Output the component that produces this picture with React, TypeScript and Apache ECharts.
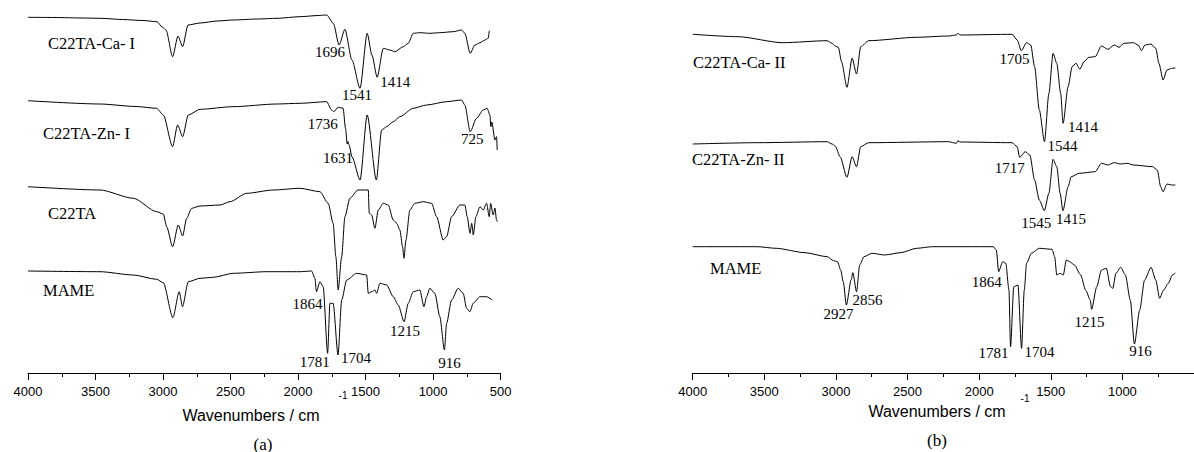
import React, { useEffect, useRef } from "react";
import * as echarts from "echarts";

// FTIR spectra, stacked with vertical offsets (arbitrary transmittance units).
// Each spectrum: [wavenumber (cm-1), offset transmittance]

// Panel (a)
const spectrumCaI: [number, number][] = [
  [4000, 355.7], [3800, 355.5], [3600, 355], [3467, 354.7], [3300, 353.5], [3150, 352.5], [3045, 351.3],
  [3008, 346.3], [2978, 343], [2929, 316.3], [2889, 337], [2855, 326.3], [2815, 348], [2726, 350],
  [2600, 352], [2482, 353], [2300, 354], [2156, 354.7], [1986, 356.3], [1850, 357.5], [1788, 358],
  [1739, 349.7], [1696, 328], [1653, 343.7], [1601, 313], [1541, 284.7], [1488, 339.7], [1453, 318],
  [1414, 295.7], [1369, 324.7], [1320, 323], [1283, 321.3], [1221, 326.3], [1184, 329.7], [1147, 339.7],
  [1098, 340.3], [1024, 339.7], [950, 340.3], [851, 341.3], [789, 343], [765, 339.7], [725, 319.7],
  [690, 328], [653, 330.3], [616, 333], [592, 334.7], [584, 342.3],
];

const spectrumZnI: [number, number][] = [
  [4000, 272.3], [3467, 269], [3200, 266.5], [3047, 264.7], [2998, 258], [2929, 226.3], [2892, 248],
  [2855, 236.3], [2813, 258], [2726, 263.7], [2482, 266.3], [2159, 269], [1986, 269.7], [1788, 271.3],
  [1751, 263], [1736, 261.3], [1702, 265.7], [1666, 264.7], [1649, 245], [1636, 229], [1631, 231.5],
  [1622, 228], [1600, 216], [1541, 193], [1488, 258], [1420, 193], [1381, 243], [1344, 246.3],
  [1295, 251.3], [1246, 256.3], [1147, 264.7], [1048, 268], [900, 271.3], [789, 273], [765, 268],
  [725, 241.3], [678, 254.7], [629, 263], [600, 264.7], [579, 258], [572, 246.3], [565, 251],
  [542, 233], [530, 236.3], [525, 223],
];

const spectrumC22TA: [number, number][] = [
  [4000, 186.3], [3467, 183], [3220, 174.7], [3047, 161.3], [2998, 159], [2973, 146.3], [2929, 126.3],
  [2887, 148], [2855, 137], [2825, 154.7], [2788, 164.7], [2726, 167], [2578, 168], [2504, 171.3],
  [2381, 179.7], [2184, 183], [1986, 184.7], [1838, 181.3], [1777, 169.7], [1740, 149.7], [1720, 116.3],
  [1703, 83], [1677, 116.3], [1653, 156.3], [1616, 174.7], [1557, 183], [1480, 183], [1473, 159.7],
  [1455, 158], [1431, 144.7], [1406, 163], [1369, 169.7], [1332, 168], [1295, 153], [1270, 149.7],
  [1246, 143], [1226, 126.3], [1216, 114.7], [1201, 133], [1172, 163], [1135, 169.7], [1073, 171.3],
  [1011, 169.7], [974, 156.3], [925, 133], [900, 136.3], [863, 156.3], [801, 168], [765, 168],
  [747, 156.3], [727, 139.7], [714, 149.7], [702, 138], [683, 156.3], [653, 166.3], [629, 163],
  [604, 169.7], [584, 156.3], [574, 169.7], [555, 158], [542, 165], [530, 153], [525, 151.3],
];

const spectrumMameA: [number, number][] = [
  [4000, 102], [3467, 101.3], [3220, 98], [3047, 93.7], [2998, 90.3], [2927, 55.3], [2880, 81.3],
  [2856, 66.3], [2813, 91.3], [2726, 94.7], [2628, 95.7], [2480, 99.7], [2233, 101.3], [1986, 101.3],
  [1900, 102], [1875, 94.7], [1864, 81.3], [1838, 91.3], [1814, 86.3], [1781, 19.7], [1764, 69.7],
  [1740, 69.7], [1704, 18], [1677, 73], [1640, 93], [1566, 99.7], [1492, 98], [1480, 79.7],
  [1455, 81.3], [1431, 83], [1418, 79.7], [1394, 89.7], [1344, 88], [1295, 76.3], [1258, 68],
  [1215, 51.3], [1184, 69.7], [1147, 81.3], [1098, 83], [1068, 66.3], [1048, 76.3], [1024, 84.7],
  [987, 79.7], [950, 56.3], [916, 23], [900, 49.7], [863, 73], [814, 84.7], [777, 79.7], [752, 64.7],
  [727, 61.3], [703, 69.7], [653, 76.3], [604, 76.3], [562, 73],
];

// Panel (b)
const spectrumCaII: [number, number][] = [
  [4000, 338.7], [3684, 336.3], [3372, 330.3], [3061, 332.3], [3027, 329.7], [3005, 327], [2983, 325.7],
  [2961, 311.3], [2923, 285.7], [2887, 314.7], [2856, 299], [2827, 326.3], [2771, 332.3], [2437, 335.7],
  [2214, 337], [2159, 338], [2148, 339.7], [2134, 338], [1769, 338.7], [1735, 333], [1705, 322.3],
  [1669, 330.3], [1640, 328], [1613, 306.3], [1580, 263], [1544, 231.3], [1513, 279.7], [1484, 319.7],
  [1458, 309.7], [1431, 279.7], [1414, 249.7], [1379, 286.3], [1351, 306.3], [1324, 309.7],
  [1297, 303.7], [1268, 311.3], [1234, 315.7], [1190, 316.3], [1146, 327], [1101, 323.7], [1057, 328],
  [1023, 325.7], [990, 329.7], [923, 330.3], [890, 328], [867, 322.3], [843, 328], [800, 329],
  [767, 324.7], [745, 309.7], [716, 293], [689, 303], [656, 304.7], [630, 305],
];

const spectrumZnII: [number, number][] = [
  [4000, 229], [3550, 230.3], [3061, 231.3], [3027, 229], [3005, 227], [2971, 216.3], [2923, 195.7],
  [2887, 216.3], [2856, 206.3], [2827, 226.3], [2771, 230.3], [2214, 231.3], [2159, 229.7], [2148, 232.3],
  [2134, 231], [1769, 230.3], [1735, 226.3], [1717, 215.7], [1679, 221.3], [1646, 218], [1613, 193],
  [1580, 173], [1545, 162.3], [1513, 179.7], [1484, 213.7], [1458, 206.3], [1435, 179.7], [1415, 162.3],
  [1379, 186.3], [1357, 196.3], [1301, 199.7], [1190, 201.3], [1146, 209.7], [1101, 208], [1057, 210.3],
  [1012, 209], [967, 209.7], [923, 208], [790, 206.3], [756, 203], [733, 186.3], [716, 181.3],
  [689, 189], [656, 188], [630, 188],
];

const spectrumMameB: [number, number][] = [
  [4000, 126.3], [3550, 126.3], [3417, 124.7], [3216, 120.3], [3061, 116.3], [3016, 112.3], [2989, 111.3],
  [2967, 103], [2949, 91.3], [2927, 68], [2894, 93], [2882, 100.3], [2856, 81.3], [2834, 108],
  [2804, 116.3], [2749, 119.7], [2660, 118], [2548, 120.3], [2437, 124.7], [2326, 126.3], [1902, 126.3],
  [1880, 123], [1864, 101.3], [1836, 111.3], [1814, 109.7], [1792, 83], [1781, 26.3], [1758, 86.3],
  [1729, 88], [1704, 24.7], [1685, 83], [1669, 109.7], [1635, 119.7], [1580, 124.7], [1491, 123.7],
  [1473, 116.3], [1458, 98], [1435, 99.7], [1413, 98], [1391, 113], [1368, 111.3], [1335, 108],
  [1291, 98], [1257, 83], [1224, 73], [1215, 63.7], [1179, 86.3], [1146, 103], [1112, 104.7],
  [1083, 86.3], [1067, 84.7], [1045, 99.7], [1012, 105.7], [979, 98], [945, 73], [916, 29], [879, 63],
  [845, 93], [800, 105.7], [767, 93], [740, 74.7], [712, 83], [679, 89.7], [651, 98], [630, 100],
];

// Annotated band positions (cm-1)
const peaksCaI = [1696, 1541, 1414];
const peaksZnI = [1736, 1631, 725];
const peaksMameA = [1864, 1781, 1704, 1215, 916];
const peaksCaII = [1705, 1544, 1414];
const peaksZnII = [1717, 1545, 1415];
const peaksMameB = [2927, 2856, 1864, 1781, 1704, 1215, 916];

// Label placement relative to each band minimum (px)
const offsetsCaI = [[-9, 7], [-3, 7], [18, 5]];
const offsetsZnI = [[-11, 12], [-10, 16], [2, 7]];
const offsetsMameA = [[-9, 12], [-13, 9], [18, 3], [1, 9], [5, 13]];
const offsetsCaII = [[-7, 8], [18, 4], [20, 4]];
const offsetsZnII = [[-10, 11], [-8, 12], [8, 8]];
const offsetsMameB = [[-8, 9], [11, 8], [-12, 10], [-17, 6], [18, 4], [-2, 13], [6, 7]];

const SANS = "'Liberation Sans', Arial, sans-serif";
const SERIF = "'Liberation Serif', 'Times New Roman', serif";

function valueAt(spec: [number, number][], wn: number): number {
  const p = spec.find((d) => d[0] === wn);
  return p ? p[1] : 0;
}

function peakItems(spec: [number, number][], peaks: number[], offsets: number[][]) {
  return peaks.map((wn, i) => ({
    value: [wn, valueAt(spec, wn)],
    label: { offset: offsets[i] },
  }));
}

function lineSeries(data: [number, number][], idx: number) {
  return {
    type: "line",
    xAxisIndex: idx,
    yAxisIndex: idx,
    data,
    showSymbol: false,
    symbol: "none",
    smooth: 0.25,
    smoothMonotone: "x",
    silent: true,
    lineStyle: { color: "#000", width: 1 },
  };
}

function labelSeries(items: any[], idx: number) {
  return {
    type: "scatter",
    xAxisIndex: idx,
    yAxisIndex: idx,
    data: items,
    symbolSize: 1,
    silent: true,
    itemStyle: { color: "rgba(0,0,0,0)", opacity: 1 },
    label: {
      show: true,
      position: "inside",
      formatter: (p: any) => String(p.value[0]),
      color: "#000",
      opacity: 1,
      textBorderWidth: 0,
      textBorderColor: "transparent",
      fontSize: 15,
      fontFamily: SERIF,
      align: "center",
      verticalAlign: "middle",
    },
  };
}

function xAxis(idx: number, hideMinLabel: boolean) {
  return {
    type: "value",
    gridIndex: idx,
    min: 500,
    max: 4000,
    interval: 500,
    inverse: true,
    axisLine: { show: true, onZero: false, lineStyle: { color: "#000", width: 1 } },
    axisTick: { show: true, inside: false, length: 7, lineStyle: { color: "#000", width: 1 } },
    minorTick: { show: true, splitNumber: 2, length: 4, lineStyle: { color: "#000", width: 1 } },
    splitLine: { show: false },
    minorSplitLine: { show: false },
    axisLabel: {
      color: "#000",
      fontSize: 13,
      fontFamily: SANS,
      margin: 12,
      showMinLabel: !hideMinLabel,
      formatter: (v: number) => String(v),
    },
  };
}

function text(x: number, y: number, t: string, size: number, family: string, align = "left") {
  return {
    type: "text",
    x,
    y,
    silent: true,
    style: {
      text: t,
      fontSize: size,
      fontFamily: family,
      fill: "#000",
      textAlign: align,
      align,
      textVerticalAlign: "middle",
      verticalAlign: "middle",
    },
  };
}

export default function App() {
  const ref = useRef<HTMLDivElement>(null);

  useEffect(() => {
    if (!ref.current) return;
    const chart = echarts.init(ref.current, undefined, { renderer: "svg" });
    chart.setOption({
      animation: false,
      backgroundColor: "#fff",
      grid: [
        { left: 28, top: 0, width: 472.6, height: 373 },
        { left: 692.7, top: 0, width: 524, height: 373 },
      ],
      xAxis: [xAxis(0, false), xAxis(1, true)],
      yAxis: [
        { type: "value", gridIndex: 0, min: 0, max: 373, show: false },
        { type: "value", gridIndex: 1, min: 0, max: 373, show: false },
      ],
      series: [
        lineSeries(spectrumCaI, 0),
        lineSeries(spectrumZnI, 0),
        lineSeries(spectrumC22TA, 0),
        lineSeries(spectrumMameA, 0),
        lineSeries(spectrumCaII, 1),
        lineSeries(spectrumZnII, 1),
        lineSeries(spectrumMameB, 1),
        labelSeries(
          [
            ...peakItems(spectrumCaI, peaksCaI, offsetsCaI),
            ...peakItems(spectrumZnI, peaksZnI, offsetsZnI),
            ...peakItems(spectrumMameA, peaksMameA, offsetsMameA),
          ],
          0
        ),
        labelSeries(
          [
            ...peakItems(spectrumCaII, peaksCaII, offsetsCaII),
            ...peakItems(spectrumZnII, peaksZnII, offsetsZnII),
            ...peakItems(spectrumMameB, peaksMameB, offsetsMameB),
          ],
          1
        ),
      ],
      graphic: [
        // sample names
        text(48, 43, "C22TA-Ca- I", 16.5, SERIF),
        text(43, 133, "C22TA-Zn- I", 16.5, SERIF),
        text(48, 213, "C22TA", 16.5, SERIF),
        text(43, 290, "MAME", 16.5, SERIF),
        text(693, 62, "C22TA-Ca- II", 16.5, SERIF),
        text(692, 159, "C22TA-Zn- II", 16.5, SERIF),
        text(710, 268, "MAME", 16.5, SERIF),
        // axis titles and panel tags
        text(251, 415, "Wavenumbers / cm", 16, SANS, "center"),
        text(343, 395, "-1", 10, SANS, "center"),
        text(263, 444, "(a)", 17, SERIF, "center"),
        text(937, 411, "Wavenumbers / cm", 16, SANS, "center"),
        text(1025, 398, "-1", 10, SANS, "center"),
        text(937, 440, "(b)", 17, SERIF, "center"),
      ],
    });
    return () => chart.dispose();
  }, []);

  return (
    <div
      ref={ref}
      style={{ position: "fixed", left: 0, top: 0, width: 1194, height: 452, background: "#fff" }}
    />
  );
}
